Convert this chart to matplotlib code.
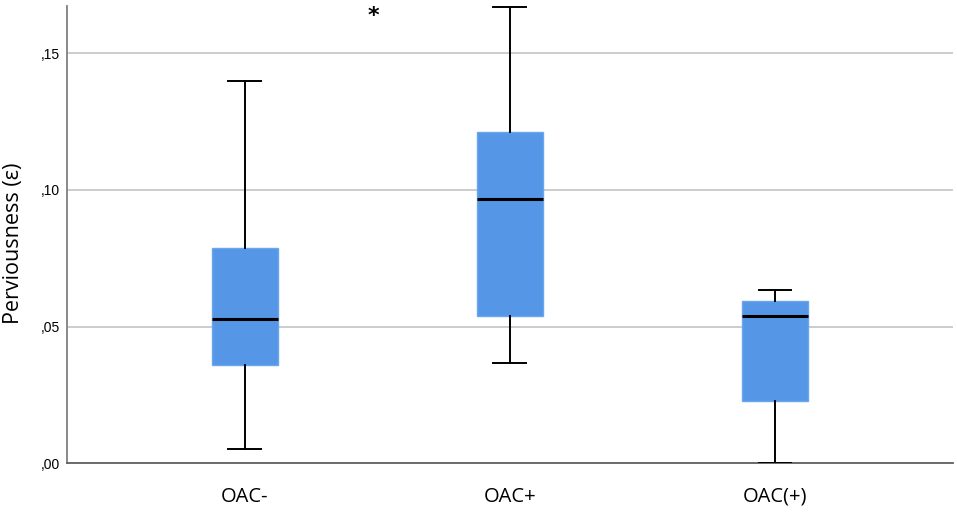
import matplotlib
matplotlib.use("Agg")
import matplotlib.pyplot as plt

# values (five-number summaries)
groups = ["OAC-", "OAC+", "OAC(+)"]
whisker_low = [0.0053, 0.0368, 0.0000]
q1 = [0.0358, 0.0537, 0.0228]
median = [0.0528, 0.0966, 0.0539]
q3 = [0.0786, 0.1212, 0.0595]
whisker_high = [0.1399, 0.1669, 0.0634]
y_ticks = [0.00, 0.05, 0.10, 0.15]
y_tick_labels = [",00", ",05", ",10", ",15"]

box_fill = "#5596e6"

fig = plt.figure(figsize=(9.57, 5.22), dpi=100)
ax = fig.add_axes([0.070, 0.1124, 0.9253, 0.8761])

stats = []
for name, lo, a, m, b, hi in zip(groups, whisker_low, q1, median, q3, whisker_high):
    stats.append(dict(label=name, whislo=lo, q1=a, med=m, q3=b, whishi=hi, fliers=[]))

positions = list(range(1, len(groups) + 1))
ax.bxp(stats, positions=positions, widths=0.249, patch_artist=True, showfliers=False,
       boxprops=dict(facecolor=box_fill, edgecolor="#6aa6ee", linewidth=1.0),
       medianprops=dict(color="black", linewidth=2.2),
       whiskerprops=dict(color="black", linewidth=1.4),
       capprops=dict(color="black", linewidth=1.4),
       capwidths=0.123, zorder=3)

ax.set_xlim(0.33, 3.67)
ax.set_ylim(0, 0.1672)
ax.set_yticks(y_ticks)
ax.set_yticklabels(y_tick_labels, fontsize=10, family="Liberation Sans")
ax.set_xticks(positions)
ax.set_xticklabels(groups, fontsize=14.5, family="Open Sans")
ax.tick_params(axis="both", length=0)
ax.tick_params(axis="x", pad=17)
ax.tick_params(axis="y", pad=5)

ax.yaxis.grid(True, color="#c8c8c8", linewidth=1.3, zorder=0)
ax.set_axisbelow(True)
for side in ["top", "right"]:
    ax.spines[side].set_visible(False)
ax.spines["left"].set_color("#808080")
ax.spines["left"].set_linewidth(1.3)
ax.spines["bottom"].set_color("#606060")
ax.spines["bottom"].set_linewidth(1.3)

ax.set_ylabel("Perviousness (ε)", fontsize=15.5, family="Open Sans")
ax.yaxis.set_label_coords(-0.049, 0.482)

# significance marker
ax.text(1.485, 0.1635, "*", fontsize=16, fontweight="bold", ha="center", va="center")

fig.savefig("out.png", dpi=100)
